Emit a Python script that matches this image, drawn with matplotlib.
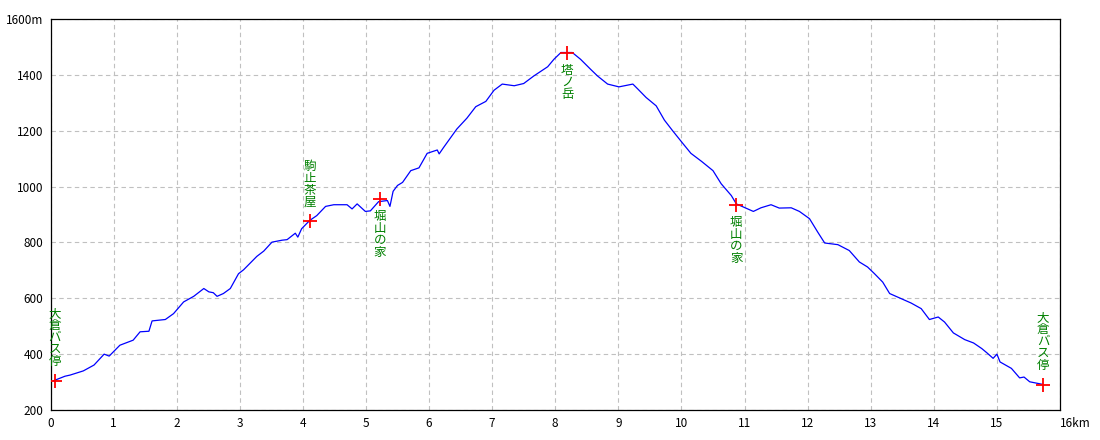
import matplotlib
matplotlib.use('Agg')
import matplotlib.pyplot as plt

plt.rcParams['font.family'] = ['Noto Sans CJK JP', 'DejaVu Sans']

# profile: distance (km) and elevation (m)
dist = [0.05, 0.23, 0.31, 0.52, 0.69, 0.85, 0.93, 1.10, 1.31, 1.42, 1.56, 1.61,
        1.82, 1.95, 2.11, 2.27, 2.43, 2.51, 2.58, 2.64, 2.74, 2.85, 2.98, 3.06,
        3.27, 3.38, 3.51, 3.67, 3.75, 3.88, 3.92, 3.98, 4.11, 4.22, 4.36, 4.49,
        4.70, 4.78, 4.86, 4.99, 5.07, 5.20, 5.34, 5.38, 5.43, 5.50, 5.58, 5.71,
        5.84, 5.97, 6.13, 6.16, 6.23, 6.44, 6.60, 6.74, 6.90, 7.03, 7.16, 7.35,
        7.50, 7.66, 7.88, 7.98, 8.09, 8.27, 8.40, 8.56, 8.67, 8.83, 9.01, 9.23,
        9.31, 9.44, 9.60, 9.73, 9.86, 10.02, 10.15, 10.32, 10.50, 10.63, 10.79,
        10.87, 11.05, 11.14, 11.26, 11.42, 11.55, 11.74, 11.87, 12.03, 12.16,
        12.27, 12.48, 12.66, 12.82, 12.95, 13.06, 13.19, 13.30, 13.48, 13.64,
        13.80, 13.93, 14.07, 14.17, 14.31, 14.49, 14.63, 14.76, 14.84, 14.94,
        15.00, 15.05, 15.23, 15.36, 15.43, 15.52, 15.72]
elev = [305, 321, 325, 340, 361, 400, 393, 432, 450, 480, 482, 519,
        524, 545, 587, 607, 635, 623, 620, 607, 617, 635, 688, 702,
        750, 769, 801, 808, 810, 833, 819, 849, 879, 896, 929, 935,
        935, 920, 938, 911, 913, 946, 950, 929, 983, 1004, 1015, 1057,
        1067, 1119, 1131, 1117, 1140, 1206, 1245, 1286, 1305, 1345, 1367, 1361,
        1369, 1396, 1429, 1456, 1480, 1480, 1456, 1420, 1396, 1367, 1357, 1367,
        1349, 1319, 1289, 1238, 1200, 1155, 1119, 1090, 1057, 1010, 968,
        938, 920, 911, 924, 935, 923, 924, 911, 885, 837,
        798, 792, 771, 730, 712, 688, 658, 617, 599, 583,
        563, 524, 533, 515, 476, 452, 440, 420, 405, 385,
        400, 372, 349, 315, 318, 301, 292]

# waypoints
wp_names = ['大倉バス停', '駒止茶屋', '堀山の家', '塔ノ岳', '堀山の家', '大倉バス停']
wp_dist = [0.07, 4.11, 5.22, 8.19, 10.87, 15.73]
wp_elev = [305, 876, 956, 1480, 935, 290]
wp_above = [True, True, False, False, False, True]

xticks = list(range(0, 17))
xlabels = [str(i) for i in range(16)] + ['16km']
yticks = list(range(200, 1601, 200))
ylabels = [str(v) for v in range(200, 1600, 200)] + ['1600m']

fig = plt.figure(figsize=(11, 4.4), dpi=100)
ax = fig.add_axes([50.5 / 1100, 30 / 440, 1009.5 / 1100, 391 / 440])

ax.plot(dist, elev, color='#0000ff', lw=0.9, zorder=3)
ax.plot(wp_dist, wp_elev, '+', color='#ff0000', ms=10, mew=1.3, zorder=4)

for name, x, y, up in zip(wp_names, wp_dist, wp_elev, wp_above):
    txt = '\n'.join(name)
    if up:
        ax.annotate(txt, (x, y), xytext=(0, 9), textcoords='offset points',
                    ha='center', va='bottom', color='#008000', fontsize=9,
                    linespacing=0.9, zorder=5)
    else:
        ax.annotate(txt, (x, y), xytext=(0, -8), textcoords='offset points',
                    ha='center', va='top', color='#008000', fontsize=9,
                    linespacing=0.9, zorder=5)

ax.set_xlim(0, 16)
ax.set_ylim(200, 1600)
ax.set_xticks(xticks)
ax.set_xticklabels(xlabels)
ax.set_yticks(yticks)
ax.set_yticklabels(ylabels)
ax.tick_params(length=0, labelsize=8.5, pad=5)
ax.get_xticklabels()[-1].set_horizontalalignment('left')
ax.get_xticklabels()[-1].set_x(15.85)

ax.grid(True, color='#c0c0c0', linestyle=(0, (4, 3)), lw=0.8)
for s in ax.spines.values():
    s.set_color('black')
    s.set_linewidth(0.9)

fig.savefig('out.png', dpi=100)
